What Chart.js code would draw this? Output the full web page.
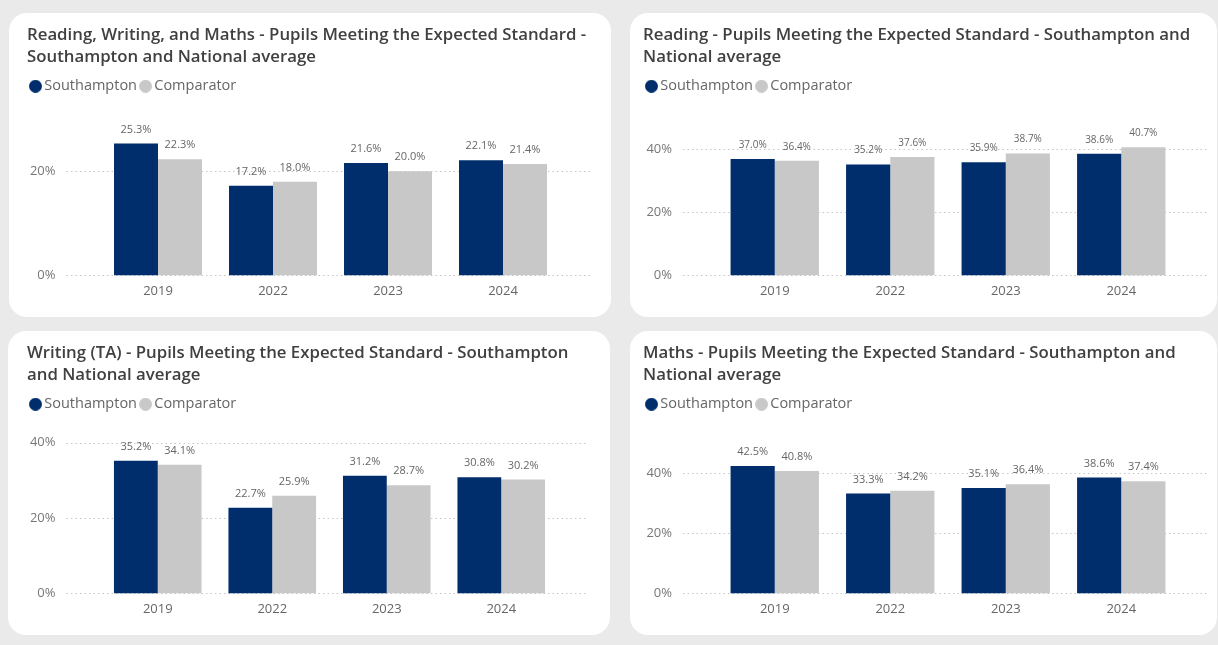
<!DOCTYPE html>
<html lang="en">
<head>
<meta charset="UTF-8">
<title>Pupils Meeting the Expected Standard - Southampton and National average</title>
<style>
  body { margin: 0; background: #eaeaea; font-family: "Open Sans", sans-serif; }
  #page { position: relative; width: 1218px; height: 645px; overflow: hidden; }
  .card { position: absolute; background: #fff; border-radius: 18px; overflow: hidden; }
  .card canvas { display: block; }
</style>
<script src="https://cdn.jsdelivr.net/npm/chart.js"></script>
</head>
<body>
<div id="page">
  <div class="card" style="left:9px;top:13px;width:602px;height:304px"><canvas id="rwm" width="602" height="304"></canvas></div>
  <div class="card" style="left:630px;top:13px;width:587px;height:304px"><canvas id="reading" width="587" height="304"></canvas></div>
  <div class="card" style="left:8px;top:331px;width:602px;height:304px"><canvas id="writing" width="602" height="304"></canvas></div>
  <div class="card" style="left:630px;top:331px;width:587px;height:304px"><canvas id="maths" width="587" height="304"></canvas></div>
</div>
<script>
// data
const years = ['2019', '2022', '2023', '2024'];
const seriesNames = ['Southampton', 'Comparator'];

const rwmSouthampton = [25.3, 17.2, 21.6, 22.1];
const rwmComparator = [22.3, 18.0, 20.0, 21.4];
const readingSouthampton = [37.0, 35.2, 35.9, 38.6];
const readingComparator = [36.4, 37.6, 38.7, 40.7];
const writingSouthampton = [35.2, 22.7, 31.2, 30.8];
const writingComparator = [34.1, 25.9, 28.7, 30.2];
const mathsSouthampton = [42.5, 33.3, 35.1, 38.6];
const mathsComparator = [40.8, 34.2, 36.4, 37.4];

const rwmTitle = ['Reading, Writing, and Maths - Pupils Meeting the Expected Standard -', 'Southampton and National average'];
const readingTitle = ['Reading - Pupils Meeting the Expected Standard - Southampton and', 'National average'];
const writingTitle = ['Writing (TA) - Pupils Meeting the Expected Standard - Southampton', 'and National average'];
const mathsTitle = ['Maths - Pupils Meeting the Expected Standard - Southampton and', 'National average'];

const navy = '#002d6c';
const grey = '#c8c8c8';
const FONT = 'Open Sans';

// small round legend marker that sits right next to its text
function dot(color) {
  const c = document.createElement('canvas');
  c.width = 15; c.height = 13;
  const g = c.getContext('2d');
  g.fillStyle = color;
  g.beginPath();
  g.arc(6.5, 6.5, 6.5, 0, Math.PI * 2);
  g.fill();
  return c;
}
const legendDots = [dot(navy), dot(grey)];

// dotted horizontal gridlines that run past the plot area like Power BI's
const dottedGrid = {
  id: 'dottedGrid',
  beforeDatasetsDraw(chart, args, opts) {
    const { ctx, chartArea } = chart;
    const y = chart.scales.y;
    ctx.save();
    ctx.strokeStyle = '#c4c4c4';
    ctx.lineWidth = 1;
    ctx.setLineDash([1.5, 3]);
    y.ticks.forEach(t => {
      const py = Math.round(y.getPixelForValue(t.value)) + 0.5;
      ctx.beginPath();
      ctx.moveTo(chartArea.left - opts.left, py);
      ctx.lineTo(chartArea.right + opts.right, py);
      ctx.stroke();
    });
    ctx.restore();
  }
};

// value labels above each bar
const valueLabels = {
  id: 'valueLabels',
  afterDatasetsDraw(chart, args, opts) {
    const ctx = chart.ctx;
    ctx.save();
    ctx.font = opts.size + 'px "' + FONT + '"';
    ctx.fillStyle = '#666';
    ctx.textAlign = 'center';
    ctx.textBaseline = 'middle';
    chart.data.datasets.forEach((ds, i) => {
      chart.getDatasetMeta(i).data.forEach((bar, j) => {
        ctx.fillText(ds.data[j].toFixed(1) + '%', bar.x, bar.y - opts.offset);
      });
    });
    ctx.restore();
  }
};

function makeChart(id, titleLines, south, comp, yMax, labelSize, frame) {
  return new Chart(document.getElementById(id), {
    type: 'bar',
    data: {
      labels: years,
      datasets: [
        { label: seriesNames[0], data: south, backgroundColor: navy },
        { label: seriesNames[1], data: comp, backgroundColor: grey }
      ]
    },
    options: {
      responsive: false,
      animation: false,
      layout: { padding: { left: frame.left, right: 4, top: 11, bottom: 10 } },
      datasets: { bar: { categoryPercentage: 0.765, barPercentage: 1 } },
      plugins: {
        title: {
          display: true, text: titleLines, align: 'start', color: '#404040',
          font: { family: FONT, size: 16.8, weight: '600', lineHeight: 22 / 16.8 },
          padding: { top: 0, bottom: 2 }
        },
        legend: {
          align: 'start',
          labels: {
            usePointStyle: true, boxWidth: 1, boxHeight: 1,
            padding: 9, color: '#666', font: { family: FONT, size: 14.5 },
            generateLabels(chart) {
              const items = Chart.defaults.plugins.legend.labels.generateLabels(chart);
              items.forEach((it, i) => { it.pointStyle = legendDots[i]; });
              return items;
            }
          }
        },
        tooltip: { enabled: false },
        valueLabels: { size: labelSize, offset: 14 },
        dottedGrid: { left: 34, right: 30 }
      },
      scales: {
        x: {
          grid: { display: false, drawTicks: false },
          border: { display: false },
          ticks: { color: '#666', font: { family: FONT, size: 13 }, padding: 8 }
        },
        y: {
          min: 0, max: yMax,
          grid: { display: false, drawTicks: false },
          border: { display: false },
          ticks: {
            stepSize: 20, includeBounds: false, color: '#777', padding: 45,
            font: { family: FONT, size: 13 },
            callback: v => v + '%'
          },
          afterFit: s => {
            // wide label gap, but keep it from eating vertical room
            s.width = frame.axis;
            s.paddingTop = 8;
            s.paddingBottom = 8;
          }
        },
        // empty right-hand axis: only reserves the blank margin right of the bars
        gutter: {
          type: 'linear', position: 'right',
          grid: { display: false, drawTicks: false },
          border: { display: false },
          ticks: { display: false },
          afterFit: s => {
            s.width = frame.gutter;
            s.paddingTop = 0;
            s.paddingBottom = 0;
          }
        }
      }
    },
    plugins: [dottedGrid, valueLabels]
  });
}

makeChart('rwm', rwmTitle, rwmSouthampton, rwmComparator, 33.0, 11, { left: 18, axis: 73.5, gutter: 46.5 });
makeChart('reading', readingTitle, readingSouthampton, readingComparator, 54.6, 10, { left: 13, axis: 74, gutter: 34 });
makeChart('writing', writingTitle, writingSouthampton, writingComparator, 45.6, 11, { left: 19, axis: 73.5, gutter: 47.5 });
makeChart('maths', mathsTitle, mathsSouthampton, mathsComparator, 57.3, 11, { left: 13, axis: 74, gutter: 34 });
</script>
</body>
</html>
